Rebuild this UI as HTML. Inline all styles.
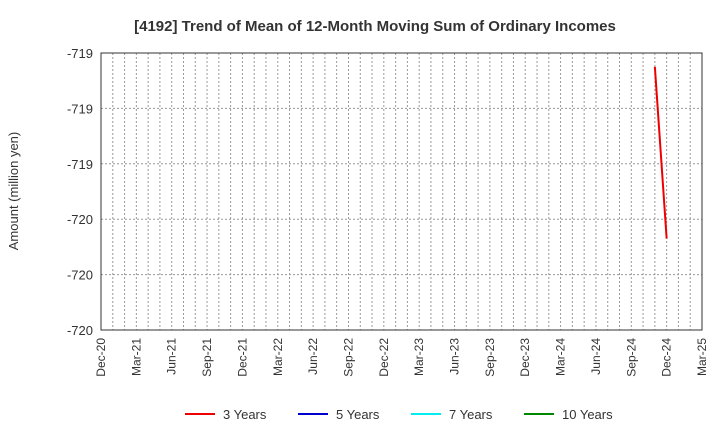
<!DOCTYPE html>
<html><head><meta charset="utf-8"><style>
body{margin:0;background:#fff;font-family:"Liberation Sans",sans-serif}
</style></head><body>
<svg id="c" width="720" height="440" xmlns="http://www.w3.org/2000/svg" font-family="Liberation Sans, sans-serif">
<text x="375" y="31" text-anchor="middle" font-size="15" font-weight="bold" fill="#333">[4192]  Trend of Mean of 12-Month Moving Sum of Ordinary Incomes</text>
<text transform="translate(18,191) rotate(-90)" text-anchor="middle" font-size="13" fill="#333">Amount (million yen)</text>
<g id="grid"></g><g id="axes"></g><g id="series"></g><g id="legend"></g>
</svg>
<script>
const yTicks=[-719.0,-719.2,-719.4,-719.6,-719.8,-720.0];
const yTickLabels=["-719","-719","-719","-720","-720","-720"];
const xTickLabels=["Dec-20","Mar-21","Jun-21","Sep-21","Dec-21","Mar-22","Jun-22","Sep-22","Dec-22","Mar-23","Jun-23","Sep-23","Dec-23","Mar-24","Jun-24","Sep-24","Dec-24","Mar-25"];
const seriesNames=["3 Years","5 Years","7 Years","10 Years"];
const seriesColors=["#e00","#00c","#0ee","#080"];
const threeYearMonths=[47,48];
const threeYearValues=[-719.05,-719.67];
const L=101,R=702,T=53,B=330,NM=51;
const NS="http://www.w3.org/2000/svg";
const x=m=>L+(R-L)*m/NM;
const y=v=>T+(B-T)*(-719.0-v)/1.0;
function mk(p,t,a){const e=document.createElementNS(NS,t);for(const k in a)e.setAttribute(k,a[k]);p.appendChild(e);return e;}
const grid=document.getElementById('grid'),axes=document.getElementById('axes'),ser=document.getElementById('series'),leg=document.getElementById('legend');
for(let m=1;m<NM;m++){const l=mk(grid,'line',{x1:x(m),x2:x(m),y1:T,y2:B,stroke:'#999','stroke-dasharray':'2,2','stroke-width':1});

}
yTicks.forEach((v,i)=>{if(i>0&&i<yTicks.length-1){const l=mk(grid,'line',{x1:L,x2:R,y1:y(v),y2:y(v),stroke:'#999','stroke-dasharray':'2,2'});

}
const t=mk(axes,'text',{x:L-8,y:y(v)+5,'text-anchor':'end','font-size':13,fill:'#333'});t.textContent=yTickLabels[i];

});
const fr=mk(axes,'rect',{x:L,y:T,width:R-L,height:B-T,fill:'none',stroke:'#333'});


xTickLabels.forEach((s,i)=>{const xx=x(i*3);const t=mk(axes,'text',{transform:`translate(${xx+4},${B+8}) rotate(-90)`,'text-anchor':'end','font-size':12,fill:'#333'});t.textContent=s;

});
const pts=threeYearMonths.map((m,i)=>x(m)+','+y(threeYearValues[i])).join(' ');
const pl=mk(ser,'polyline',{points:pts,fill:'none',stroke:seriesColors[0],'stroke-width':2});


const lx=[185,298,411,524];
seriesNames.forEach((n,i)=>{const g=mk(leg,'g',{});


mk(g,'line',{x1:lx[i],x2:lx[i]+30,y1:414,y2:414,stroke:seriesColors[i],'stroke-width':2});
const t=mk(g,'text',{x:lx[i]+38,y:419,'font-size':13,fill:'#333'});t.textContent=n;});
</script>
</body></html>
